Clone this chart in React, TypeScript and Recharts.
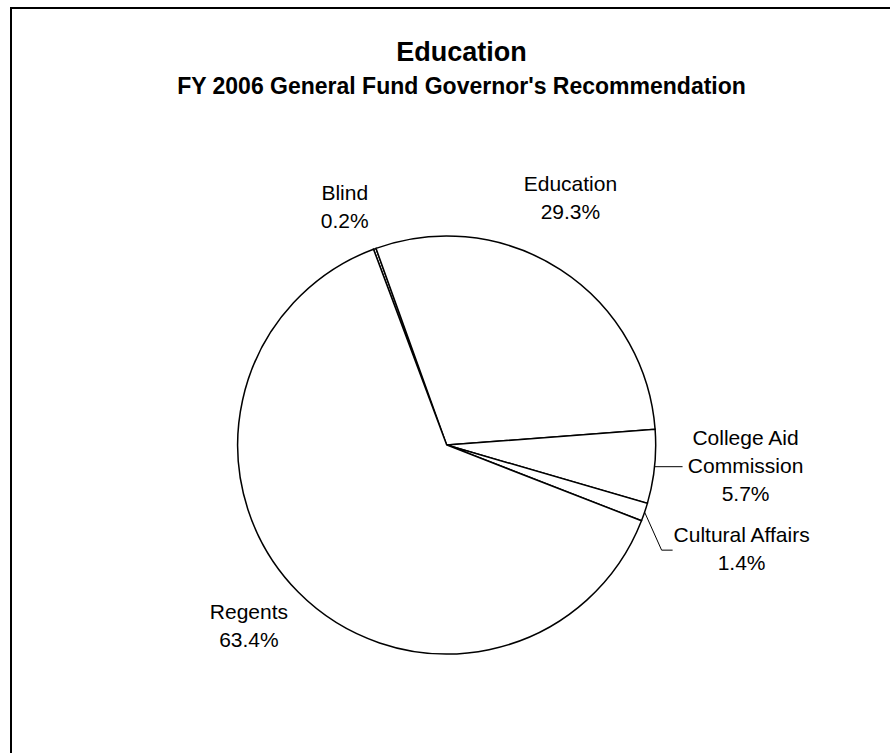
import React from "react";
import { PieChart, Pie, Cell } from "recharts";

const categories = ["Blind", "Education", "College Aid Commission", "Cultural Affairs", "Regents"];
const shares = [0.2, 29.3, 5.7, 1.4, 63.4];
const labelNames = [["Blind"], ["Education"], ["College Aid", "Commission"], ["Cultural Affairs"], ["Regents"]];

const chartTitle = "Education";
const chartSubtitle = "FY 2006 General Fund Governor's Recommendation";

const data = categories.map((name, i) => ({ name, value: shares[i] }));

// where each label sits relative to the slice's outer midpoint
const labelOffset: Record<string, { dx: number; dy: number; leader?: boolean }> = {
  Blind: { dx: -30, dy: -42 },
  Education: { dx: 10, dy: -72 },
  "College Aid Commission": { dx: 91, dy: -1, leader: true },
  "Cultural Affairs": { dx: 97, dy: 36, leader: true },
  Regents: { dx: -49, dy: 34 },
};

const FONT = "'Liberation Sans', Arial, sans-serif";
const RAD = Math.PI / 180;

function renderLabel(props: any) {
  const { cx, cy, midAngle, outerRadius, index } = props;
  const name = categories[index];
  const off = labelOffset[name];
  const ox = cx + outerRadius * Math.cos(-midAngle * RAD);
  const oy = cy + outerRadius * Math.sin(-midAngle * RAD);
  const lx = ox + off.dx;
  const ly = oy + off.dy;
  const lines = [...labelNames[index], `${shares[index].toFixed(1)}%`];
  const lh = 28;
  const top = ly - ((lines.length - 1) * lh) / 2;

  let leader = null;
  if (off.leader) {
    if (name === "College Aid Commission") {
      leader = <polyline points={`${ox},${oy} ${ox + 28},${oy}`} fill="none" stroke="#000" strokeWidth={1} />;
    } else {
      leader = (
        <polyline
          points={`${ox},${oy} ${ox + 17},${oy + 38} ${ox + 28},${oy + 38}`}
          fill="none"
          stroke="#000"
          strokeWidth={1}
        />
      );
    }
  }

  return (
    <g key={`lbl-${index}`}>
      {leader}
      {lines.map((t, i) => (
        <text
          key={i}
          x={lx}
          y={top + i * lh}
          textAnchor="middle"
          dominantBaseline="central"
          fontFamily={FONT}
          fontSize={21}
          fill="#000"
        >
          {t}
        </text>
      ))}
    </g>
  );
}

export default function App() {
  return (
    <div style={{ position: "fixed", left: 0, top: 0, width: 890, height: 753, overflow: "hidden", background: "#fff" }}>
      <div
        style={{
          position: "absolute",
          left: 10,
          top: 7,
          width: 920,
          height: 800,
          border: "2px solid #000",
        }}
      />
      <div
        style={{
          position: "absolute",
          left: 0,
          width: 923,
          top: 37,
          textAlign: "center",
          fontFamily: FONT,
          fontWeight: "bold",
          fontSize: 27,
          lineHeight: "30px",
        }}
      >
        {chartTitle}
      </div>
      <div
        style={{
          position: "absolute",
          left: 0,
          width: 923,
          top: 72,
          textAlign: "center",
          fontFamily: FONT,
          fontWeight: "bold",
          fontSize: 23,
          lineHeight: "28px",
        }}
      >
        {chartSubtitle}
      </div>
      <div style={{ position: "absolute", left: 0, top: 0 }}>
        <PieChart width={890} height={753} margin={{ top: 0, right: 0, bottom: 0, left: 0 }}>
          <Pie
            data={data}
            dataKey="value"
            nameKey="name"
            cx={446.7}
            cy={445}
            outerRadius={209}
            startAngle={110.5}
            endAngle={-249.5}
            stroke="#000"
            strokeWidth={1.5}
            label={renderLabel}
            labelLine={false}
            isAnimationActive={false}
          >
            {data.map((d) => (
              <Cell key={d.name} fill="#fff" />
            ))}
          </Pie>
        </PieChart>
      </div>
    </div>
  );
}
